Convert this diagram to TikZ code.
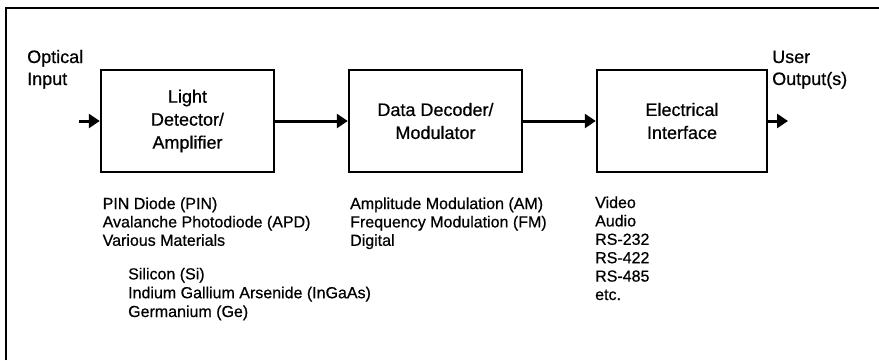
\documentclass[tikz,border=0pt]{standalone}
\usepackage{fontspec}
\setmainfont[FakeBold=0.6]{Liberation Sans}
\usetikzlibrary{arrows.meta}
\tikzset{
  blockbox/.style={draw, line width=2.5pt, minimum width=173pt, minimum height=102pt, inner sep=0pt, align=center, font=\fontsize{18}{23}\selectfont},
  flow/.style={line width=3pt, -{Triangle[length=11pt,width=14pt]}},
  bigtext/.style={anchor=base west, inner sep=0pt, align=left, font=\fontsize{18}{22}\selectfont},
  listtext/.style={anchor=base west, inner sep=0pt, align=left, font=\fontsize{16}{18.4}\selectfont},
  frameline/.style={line width=2pt}
}
\begin{document}
\begin{tikzpicture}[x=1pt,y=-1pt]
\useasboundingbox (0,0) rectangle (879,360);
% frame (top and left edges)
\coordinate (fbl) at (5.5,360);
\coordinate (ftl) at (5.5,8);
\coordinate (ftr) at (879,8);
\draw[frameline] (fbl) -- (ftl) -- (ftr);
% blocks
\node[blockbox] (b1) at (187.5,121) {Light\\Detector/\\Amplifier};
\node[blockbox] (b2) at (435.5,121) {Data Decoder/\\Modulator};
\node[blockbox, minimum width=170pt] (b3) at (682,121) {Electrical\\Interface};
% input / output
\coordinate (in) at (79,121);
\coordinate (out) at (788,121);
\node[bigtext] (opt) at (27,85) {Optical\\Input};
\node[bigtext] (usr) at (772,85) {User\\Output(s)};
\draw[flow] (in) -- (b1.west);
\draw[flow] (b1.east) -- (b2.west);
\draw[flow] (b2.east) -- (b3.west);
\draw[flow] (b3.east) -- (out);
% lists (anchored at the baseline of their last line)
\node[listtext] (l1) at (102.5,245.8) {PIN Diode (PIN)\\Avalanche Photodiode (APD)\\Various Materials};
\node[listtext, font=\fontsize{16}{18.8}\selectfont] (l2) at (128,317) {Silicon (Si)\\Indium Gallium Arsenide (InGaAs)\\Germanium (Ge)};
\node[listtext] (l3) at (350,245.8) {Amplitude Modulation (AM)\\Frequency Modulation (FM)\\Digital};
\node[listtext] (l4) at (595,300) {Video\\Audio\\RS-232\\RS-422\\RS-485\\etc.};
\end{tikzpicture}
\end{document}
